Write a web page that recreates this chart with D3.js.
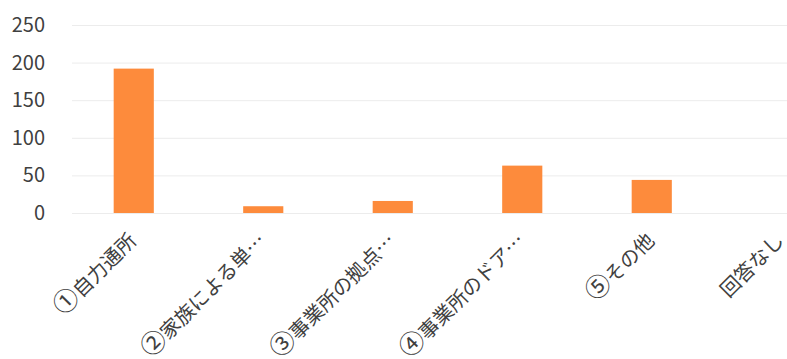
<!DOCTYPE html>
<html>
<head>
<meta charset="utf-8">
<script src="https://cdn.jsdelivr.net/npm/d3@7"></script>
<style>
  body { margin: 0; background: #fff; }
  svg { display: block; }
  .grid line { stroke: #ececec; stroke-width: 1; }
  .grid .domain { display: none; }
  .yaxis text, .xlabel { font-family: "Noto Sans CJK JP", "Noto Sans", sans-serif; fill: #404040; }
</style>
</head>
<body>
<div id="chart"></div>
<script>
// chart values
const categories = ["①自力通所", "②家族による単…", "③事業所の拠点…", "④事業所のドア…", "⑤その他", "回答なし"]
const counts = [192, 9, 16, 63, 44, 0]
const yTicks = [0, 50, 100, 150, 200, 250]

const width = 787, height = 359
const circled = /^[①-⑳]/

let svg = d3.select("#chart").append("svg")
	.attr("width", width)
	.attr("height", height)

let x = d3.scaleBand()
	.domain(categories)
	.range([69, 846])
	.paddingInner(0.69)
	.paddingOuter(0.345)

let y = d3.scaleLinear()
	.domain([0, 250])
	.range([213, 25])

// faint gridlines
svg.append("g")
	.attr("class", "grid")
	.attr("transform", "translate(72,0)")
	.call(d3.axisLeft(y).tickValues(yTicks).tickSize(-(width - 72)).tickFormat(""))

// y labels
svg.append("g")
	.attr("class", "yaxis")
	.selectAll("text")
	.data(yTicks)
	.enter()
	.append("text")
	.attr("x", 45)
	.attr("y", d => y(d))
	.attr("dy", "0.35em")
	.attr("text-anchor", "end")
	.style("font-size", "20px")
	.text(d => d)

// bars
svg.selectAll("rect.bar")
	.data(categories)
	.enter()
	.append("rect")
	.attr("class", "bar")
	.attr("x", d => x(d))
	.attr("width", x.bandwidth())
	.attr("y", (d, i) => y(counts[i]))
	.attr("height", (d, i) => y(0) - y(counts[i]))
	.attr("fill", "#fd8b3c")

// rotated category labels (circled number drawn a bit larger, like the original)
let labels = svg.selectAll("text.xlabel")
	.data(categories)
	.enter()
	.append("text")
	.attr("class", "xlabel")
	.attr("text-anchor", "end")
	.attr("dy", "0.35em")
	.style("font-size", "20px")
	.attr("transform", d => "translate(" + (x(d) + x.bandwidth() / 2 - 1) + ",237) rotate(-45)")

labels.each(function(d) {
	let t = d3.select(this)
	if (circled.test(d)) {
		t.append("tspan").style("font-size", "25px").text(d[0])
		t.append("tspan").text(d.slice(1))
	} else {
		t.text(d)
	}
})
</script>
</body>
</html>
